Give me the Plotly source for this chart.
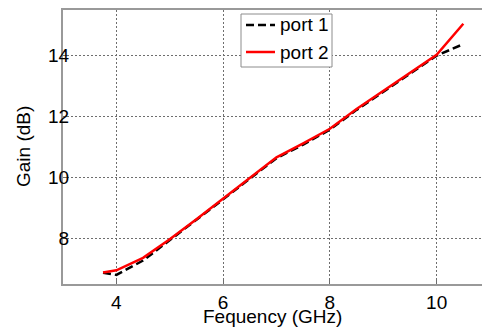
import plotly.graph_objects as go

freq = [3.75, 4.0, 4.5, 5.0, 5.5, 6.0, 6.5, 7.0, 7.5, 8.0, 8.5, 9.0, 9.5, 10.0, 10.5]
port1 = [6.87, 6.80, 7.27, 7.93, 8.60, 9.28, 9.96, 10.63, 11.08, 11.57, 12.22, 12.82, 13.42, 14.00, 14.38]
port2 = [6.88, 6.95, 7.36, 7.97, 8.63, 9.30, 9.98, 10.66, 11.12, 11.60, 12.25, 12.85, 13.45, 14.03, 15.05]
series_names = ["port 1", "port 2"]

xticks = [4, 6, 8, 10]
yticks = [8, 10, 12, 14]

DASH = "8px,4px"
fig = go.Figure()
fig.add_trace(go.Scatter(x=freq, y=port1, mode="lines", name=series_names[0],
                         line=dict(color="black", width=2.5, dash=DASH)))
fig.add_trace(go.Scatter(x=freq, y=port2, mode="lines", name=series_names[1],
                         line=dict(color="#ff0000", width=2.5)))

axis_common = dict(showline=True, linecolor="#999999", linewidth=2,
                   showgrid=True, gridcolor="#6e6e6e", griddash="2px,2px", gridwidth=1,
                   ticks="inside", ticklen=4, tickcolor="#6e6e6e",
                   zeroline=False, automargin=False,
                   tickfont=dict(size=19, color="black"))

fig.update_xaxes(range=[3, 10.85], tickvals=xticks, mirror=True, **axis_common)
fig.update_yaxes(range=[6.5, 15.5], tickvals=yticks, ticklabelstandoff=-12, **axis_common)

fig.add_annotation(text="Fequency (GHz)", xref="paper", yref="paper", x=0.5, y=0,
                   xanchor="center", yanchor="middle", yshift=-32, showarrow=False,
                   font=dict(size=19, color="black"))
fig.add_annotation(text="Gain (dB)", xref="paper", yref="paper", x=0, y=0.5,
                   xanchor="center", yanchor="middle", xshift=-40, textangle=-90,
                   showarrow=False, font=dict(size=19, color="black"))

# Manual legend (box, line samples, labels) to match the reference's compact box
def px_x(p):
    return (p - 63) / 419.0

def px_y(p):
    return (284 - p) / 274.0

fig.add_shape(type="rect", xref="paper", yref="paper",
              x0=px_x(241), x1=px_x(332), y0=px_y(67), y1=px_y(14),
              line=dict(color="#8c8c8c", width=1), fillcolor="white", layer="above")
legend_styles = [dict(color="black", width=2.5, dash=DASH), dict(color="#ff0000", width=2.5)]
for i, (name, style) in enumerate(zip(series_names, legend_styles)):
    yc = 25 + 27 * i
    fig.add_shape(type="line", xref="paper", yref="paper",
                  x0=px_x(246), x1=px_x(275), y0=px_y(yc), y1=px_y(yc),
                  line=style, layer="above")
    fig.add_annotation(text=name, xref="paper", yref="paper", x=px_x(278), y=px_y(yc),
                       xanchor="left", yanchor="middle", showarrow=False,
                       font=dict(size=19, color="black"))

fig.update_layout(
    width=482, height=327,
    margin=dict(l=63, r=0, t=10, b=43),
    paper_bgcolor="white", plot_bgcolor="white",
    font=dict(family="Liberation Sans, Arial, sans-serif", size=19, color="black"),
    showlegend=False,
)

fig.write_html("out.html", config={"displayModeBar": False},
               post_script="document.body.style.margin='0';document.body.style.overflow='hidden';")
